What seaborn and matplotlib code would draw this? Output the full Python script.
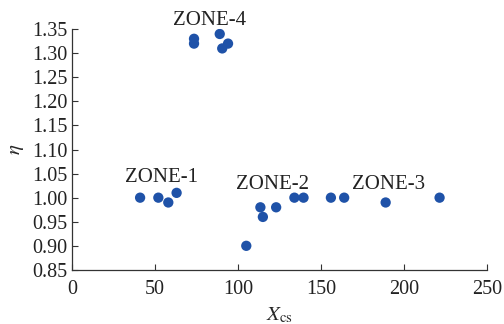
import matplotlib
matplotlib.use('Agg')
import matplotlib.pyplot as plt
import seaborn as sns
import pandas as pd

# data
x_cs = [41, 52, 58, 63, 105, 113.5, 115, 123, 134, 139.5, 156, 164, 189, 221.5,
        73.5, 73.5, 89, 90.5, 94]
eta = [1.00, 1.00, 0.99, 1.01, 0.90, 0.98, 0.96, 0.98, 1.00, 1.00, 1.00, 1.00, 0.99, 1.00,
       1.33, 1.32, 1.34, 1.31, 1.32]
zone_names = ['ZONE-1', 'ZONE-2', 'ZONE-3', 'ZONE-4']
zone_x = [54, 121, 191, 83]
zone_y = [1.041, 1.028, 1.028, 1.369]

df = pd.DataFrame({'Xcs': x_cs, 'eta': eta})

sns.set_style('ticks')
plt.rcParams['font.family'] = ['Liberation Serif', 'DejaVu Serif']
plt.rcParams['mathtext.fontset'] = 'stix'

fig = plt.figure(figsize=(5.04, 3.24), dpi=100)
ax = fig.add_axes([0.143, 0.167, 0.823, 0.743])

sns.scatterplot(data=df, x='Xcs', y='eta', color='#1f52a8', s=55, edgecolor='none', ax=ax)

for name, zx, zy in zip(zone_names, zone_x, zone_y):
    ax.text(zx, zy, name, ha='center', va='center', fontsize=15, color='#222222', clip_on=False)

ax.set_xlim(0, 250)
ax.set_ylim(0.85, 1.35)
ax.set_xticks([0, 50, 100, 150, 200, 250])
ax.set_yticks([0.85, 0.90, 0.95, 1.00, 1.05, 1.10, 1.15, 1.20, 1.25, 1.30, 1.35])
ax.yaxis.set_major_formatter(matplotlib.ticker.FormatStrFormatter('%.2f'))
ax.tick_params(direction='in', length=4, width=0.8, labelsize=14.5, colors='#333333', labelcolor='#222222')
ax.tick_params(axis='x', pad=7)
for s in ['top', 'right']:
    ax.spines[s].set_visible(False)
for s in ['left', 'bottom']:
    ax.spines[s].set_color('#333333')
    ax.spines[s].set_linewidth(0.9)

ax.set_xlabel(r'$X_{\mathrm{cs}}$', fontsize=15, labelpad=5)
ax.set_ylabel(r'$\eta$', fontsize=15, labelpad=4)

fig.savefig('out.png', dpi=100)
